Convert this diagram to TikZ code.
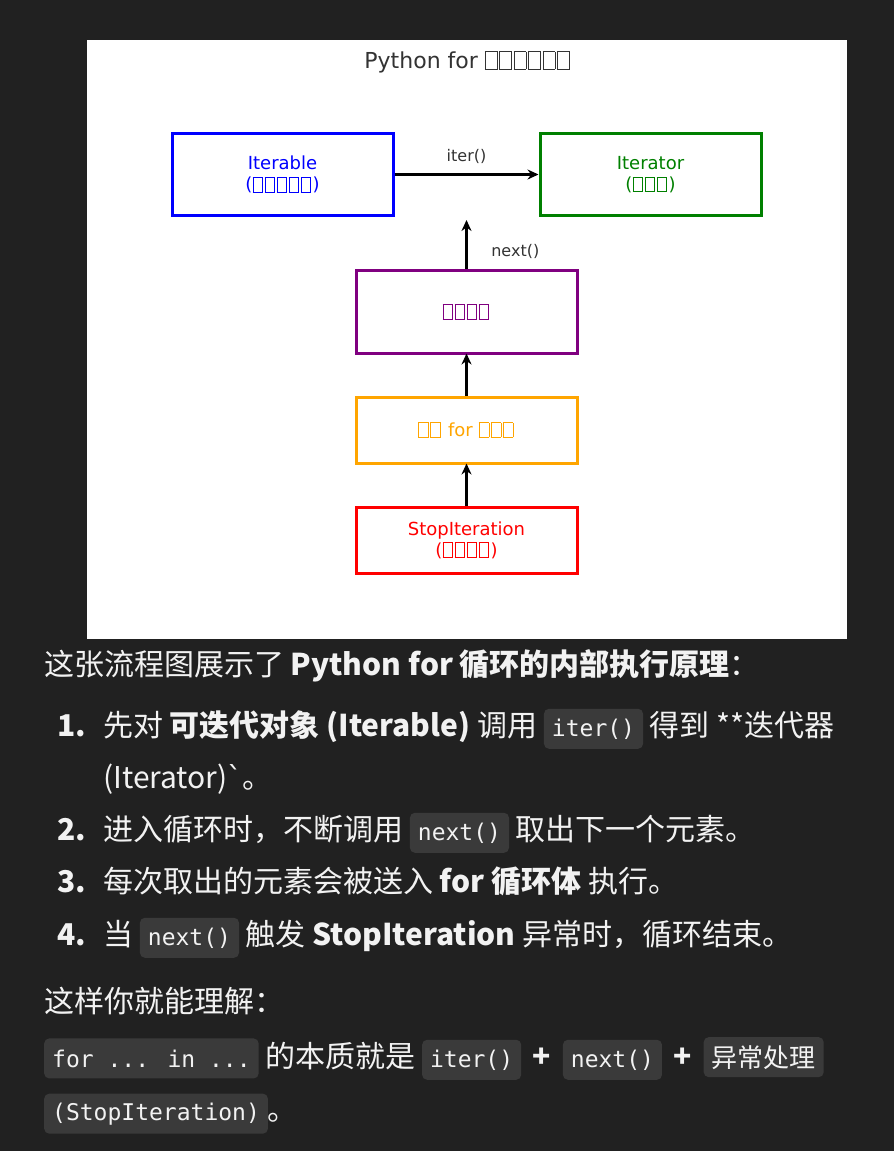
\documentclass[tikz,border=0pt]{standalone}
\usepackage{fontspec}
\setmainfont{Noto Sans CJK SC}
\newfontfamily\dv{DejaVu Sans}
\newfontfamily\mono{DejaVu Sans Mono}
\newfontfamily\cjk{Noto Sans CJK SC}
\usetikzlibrary{arrows.meta}
\definecolor{pagebg}{HTML}{212121}
\definecolor{codebg}{HTML}{3A3A3A}
\definecolor{txt}{HTML}{F2F2F2}
\definecolor{mgreen}{HTML}{008000}
\definecolor{morange}{HTML}{FFA500}
\definecolor{mpurple}{HTML}{800080}
\newcommand{\tofu}{\raisebox{-0.05em}{\fboxsep0pt\fboxrule0.6pt\fbox{\rule{0pt}{0.78em}\hspace{0.52em}}}\hspace{0.08em}}
\newcommand{\cd}[1]{\tikz[baseline=(cc.base)]\node[fill=codebg,rounded corners=5pt,inner xsep=8pt,inner ysep=0pt,minimum height=40pt,text=txt,font=\mono\fontsize{23}{26}\selectfont] (cc) {#1};}
\tikzset{
 box/.style={draw,line width=3pt,minimum width=221pt,align=center,font=\dv\fontsize{18}{21}\selectfont},
 arr/.style={-{Stealth[length=11pt,width=10pt]},line width=3pt},
 lbl/.style={font=\dv\fontsize{16}{18}\selectfont,text=black!80},
 para/.style={anchor=base west,text=txt,inner sep=0pt,font=\fontsize{30}{33}\selectfont},
 num/.style={para,font=\bfseries\fontsize{30}{33}\selectfont},
}
\begin{document}
\begin{tikzpicture}[x=1pt,y=-1pt]
\fill[pagebg] (0,0) rectangle (894,1151);
\useasboundingbox (0,0) rectangle (894,1151);
\fill[white] (87,40) rectangle (847,639);
\node[font=\dv\fontsize{22}{26}\selectfont,text=black!80] (title) at (467,62) {Python for \tofu\tofu\tofu\tofu\tofu\tofu};
\node[box,blue,minimum height=82pt] (itb) at (282.5,174.5) {Iterable\\(\tofu\tofu\tofu\tofu\tofu)};
\node[box,mgreen,minimum height=82pt] (itr) at (650.5,174.5) {Iterator\\(\tofu\tofu\tofu)};
\node[box,mpurple,minimum height=83pt] (loop) at (466.5,311.5) {\tofu\tofu\tofu\tofu};
\node[box,morange,minimum height=66pt] (body) at (466.5,430) {\tofu\tofu{} for \tofu\tofu\tofu};
\node[box,red,minimum height=66pt] (stop) at (466.5,540) {StopIteration\\(\tofu\tofu\tofu\tofu)};
\coordinate (nx) at (466.5,220);
\draw[arr] (itb) -- node[lbl,above=6pt] {iter()} (itr);
\draw[arr] (loop) -- node[lbl,right=20pt,pos=0.35] {next()} (nx);
\draw[arr] (body.north) -- ++(0,-42);
\draw[arr] (stop.north) -- ++(0,-42);
\node[para] (p0) at (44,675) {这张流程图展示了 \textbf{Python for 循环的内部执行原理}：};
\node[num] (n1) at (57,736) {1.};
\node[para] (l1) at (103,736) {先对 \textbf{可迭代对象 (Iterable)} 调用 \cd{iter()} 得到 **迭代器};
\node[para] (l1b) at (103,788) {(Iterator){\dv\char"60}。};
\node[num] (n2) at (57,840) {2.};
\node[para] (l2) at (103,840) {进入循环时，不断调用 \cd{next()} 取出下一个元素。};
\node[num] (n3) at (57,892) {3.};
\node[para] (l3) at (103,892) {每次取出的元素会被送入 \textbf{for 循环体} 执行。};
\node[num] (n4) at (57,945) {4.};
\node[para] (l4) at (103,945) {当 \cd{next()} 触发 \textbf{StopIteration} 异常时，循环结束。};
\node[para] (p1) at (44,1012) {这样你就能理解：};
\node[para] (p2) at (44,1067) {\cd{for ... in ...} 的本质就是 \cd{iter()} \,\textbf{+}\, \cd{next()} \,\textbf{+}\, \cd{{\cjk\fontsize{26}{28}\selectfont 异常处理}}};
\node[para] (p3) at (44,1120) {\cd{(StopIteration)}。};
\end{tikzpicture}
\end{document}
